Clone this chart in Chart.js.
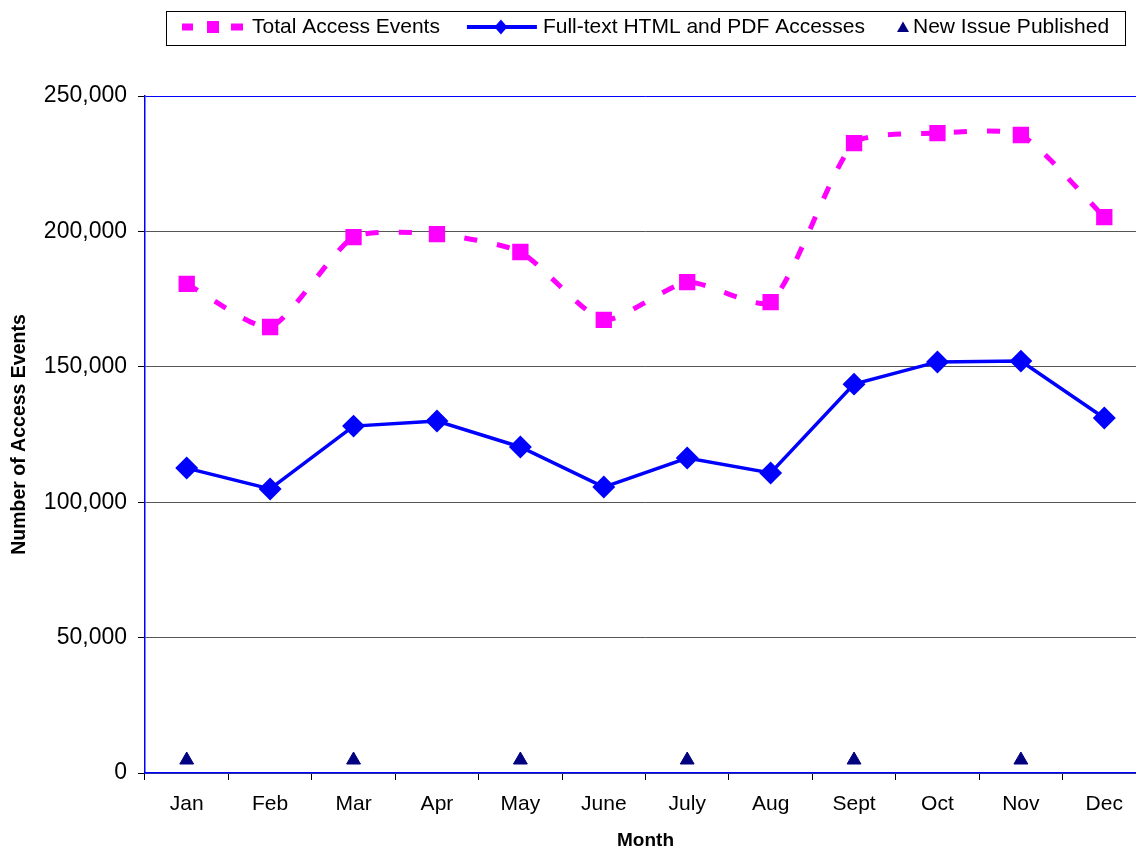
<!DOCTYPE html>
<html>
<head>
<meta charset="utf-8">
<script src="https://cdn.jsdelivr.net/npm/chart.js@4"></script>
<style>
  body { margin: 0; overflow: hidden; background: #fff; }
</style>
</head>
<body>
<canvas id="accessChart" width="1159" height="849"></canvas>
<script>
const months = ['Jan', 'Feb', 'Mar', 'Apr', 'May', 'June', 'July', 'Aug', 'Sept', 'Oct', 'Nov', 'Dec'];
const totalEvents = [180600, 164700, 197900, 199000, 192400, 167300, 181300, 173900, 232600, 236300, 235600, 205300];
const fullTextAccesses = [112600, 104900, 128100, 130000, 120400, 105600, 116300, 110800, 143600, 151800, 152100, 131100];
const newIssues = [4800, null, 4800, null, 4800, null, 4800, null, 4800, null, 4800, null];
const yTicks = [0, 50000, 100000, 150000, 200000, 250000];

const FONT = 'Arial, "Liberation Sans", sans-serif';
const MAGENTA = '#FF00FF';
const BLUE = '#0000FF';
const NAVY = '#000080';

// legend samples, drawn the way Excel draws them
function drawTotalSample(ctx, x, cy) {
    ctx.fillStyle = MAGENTA;
    ctx.fillRect(x, cy - 3.5, 11, 7);
    ctx.fillRect(x + 25, cy - 6, 12, 12);
    ctx.fillRect(x + 49, cy - 3.5, 12, 7);
    return 70;
}

function drawFullSample(ctx, x, cy) {
    ctx.strokeStyle = BLUE;
    ctx.lineWidth = 4;
    ctx.beginPath();
    ctx.moveTo(x, cy);
    ctx.lineTo(x + 70, cy);
    ctx.stroke();
    ctx.fillStyle = BLUE;
    ctx.beginPath();
    ctx.moveTo(x + 34, cy - 7.5);
    ctx.lineTo(x + 40.5, cy);
    ctx.lineTo(x + 34, cy + 7.5);
    ctx.lineTo(x + 27.5, cy);
    ctx.closePath();
    ctx.fill();
    return 76;
}

function drawIssueSample(ctx, x, cy) {
    ctx.fillStyle = NAVY;
    ctx.beginPath();
    ctx.moveTo(x + 6, cy - 5.5);
    ctx.lineTo(x + 12, cy + 5);
    ctx.lineTo(x, cy + 5);
    ctx.closePath();
    ctx.fill();
    return 16;
}

const samples = [drawTotalSample, drawFullSample, drawIssueSample];
const sampleGaps = [27, 32, 0];

const legendBox = {
    id: 'legendBox',
    afterDraw(chart) {
        const ctx = chart.ctx;
        const cy = 27;
        let x = 182;
        ctx.save();
        ctx.font = '21px ' + FONT;
        ctx.textBaseline = 'middle';
        ctx.textAlign = 'left';
        chart.data.datasets.forEach((ds, i) => {
            x += samples[i](ctx, x, cy);
            ctx.fillStyle = '#000';
            ctx.fillText(ds.label, x, cy);
            x += ctx.measureText(ds.label).width + sampleGaps[i];
        });
        ctx.strokeStyle = '#000';
        ctx.lineWidth = 1;
        ctx.strokeRect(166.5, 11.5, Math.round(x + 16 - 166), 34);
        ctx.restore();
    }
};

new Chart(document.getElementById('accessChart'), {
    type: 'line',
    data: {
        labels: months,
        datasets: [{
            label: 'Total Access Events',
            data: totalEvents,
            borderColor: MAGENTA,
            backgroundColor: MAGENTA,
            borderWidth: 5,
            borderDash: [13, 20],
            tension: 0.2,
            pointStyle: 'rect',
            pointRadius: 8,
            pointHoverRadius: 8,
            fill: false
        }, {
            label: 'Full-text HTML and PDF Accesses',
            data: fullTextAccesses,
            borderColor: BLUE,
            backgroundColor: BLUE,
            borderWidth: 3.5,
            tension: 0,
            pointStyle: 'rectRot',
            pointRadius: 9,
            pointHoverRadius: 9,
            fill: false
        }, {
            label: 'New Issue Published',
            data: newIssues,
            showLine: false,
            borderColor: NAVY,
            backgroundColor: NAVY,
            pointStyle: 'triangle',
            pointRadius: 8,
            pointHoverRadius: 8
        }]
    },
    options: {
        responsive: false,
        animation: false,
        layout: { padding: { right: 4, left: 0, top: 96, bottom: 0 } },
        plugins: {
            legend: { display: false },
            tooltip: { enabled: false }
        },
        scales: {
            x: {
                offset: true,
                afterFit(scale) { scale.height = 76; },
                grid: {
                    offset: true,
                    drawOnChartArea: false,
                    color: '#000',
                    tickLength: 7
                },
                border: { color: BLUE, width: 1.5 },
                ticks: {
                    color: '#000',
                    padding: 12,
                    maxRotation: 0,
                    font: { family: FONT, size: 21 }
                },
                title: {
                    display: true,
                    text: 'Month',
                    color: '#000',
                    padding: { top: 0, bottom: -1 },
                    font: { family: FONT, size: 19, weight: 'bold', lineHeight: 1 }
                }
            },
            y: {
                min: 0,
                max: 250000,
                afterFit(scale) { scale.width = 145; },
                afterBuildTicks(scale) {
                    scale.ticks = yTicks.map(v => ({ value: v }));
                },
                grid: {
                    color: ctx => ctx.tick && ctx.tick.value === 250000 ? BLUE : '#555',
                    tickColor: '#000',
                    tickLength: 7,
                    lineWidth: 1
                },
                border: { color: BLUE, width: 1.5 },
                ticks: {
                    color: '#000',
                    padding: 11,
                    font: { family: FONT, size: 23 },
                    callback: v => v.toLocaleString('en-US')
                },
                title: {
                    display: true,
                    text: 'Number of Access Events',
                    color: '#000',
                    padding: { top: 10, bottom: 0 },
                    font: { family: FONT, size: 19.5, weight: 'bold', lineHeight: 1 }
                }
            }
        }
    },
    plugins: [legendBox]
});
</script>
</body>
</html>
